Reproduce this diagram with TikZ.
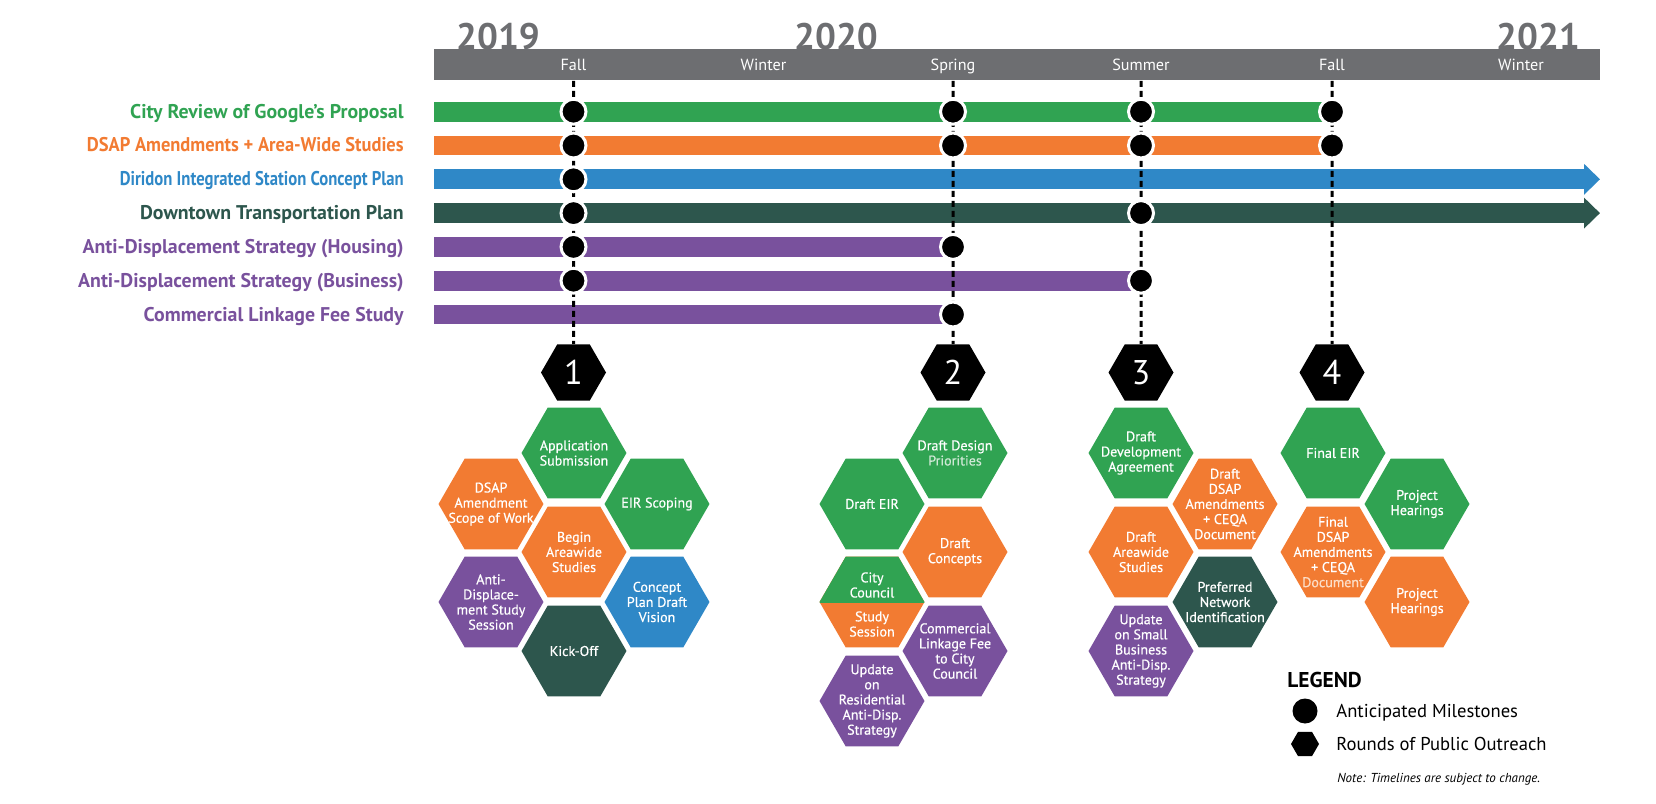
\documentclass[tikz,border=0pt]{standalone}
\usepackage{fontspec}
\setmainfont{PT Sans}
\newfontfamily\cellfont[FakeBold=0.5]{PT Sans}
\usetikzlibrary{arrows.meta, shapes.geometric}

\definecolor{cgreen}{RGB}{48,163,82}
\definecolor{corange}{RGB}{242,123,50}
\definecolor{cblue}{RGB}{47,136,199}
\definecolor{cdark}{RGB}{45,86,77}
\definecolor{cpurple}{RGB}{121,81,157}
\definecolor{cgray}{RGB}{109,110,113}
\definecolor{lgreen}{RGB}{205,232,212}
\definecolor{lorange}{RGB}{252,222,200}

\begin{document}
\begin{tikzpicture}[x=0.02cm, y=-0.02cm,
  year/.style={font=\fontsize{21}{21}\selectfont\bfseries, text=cgray, inner sep=0pt, anchor=base},
  season/.style={font=\fontsize{9.2}{9.2}\selectfont, text=white, inner sep=0pt, anchor=base},
  rowlbl/.style={font=\fontsize{11.3}{11.3}\selectfont\bfseries, inner sep=0pt, anchor=base east},
  bar/.style={line width=0.4cm},
  arrowbar/.style={line width=0.4cm, -{Triangle[length=0.32cm, width=0.6cm]}},
  guide/.style={line width=0.06cm, dash pattern=on 0.12cm off 0.08cm},
  ms/.style={circle, fill=black, draw=white, line width=0.06cm, minimum size=0.5cm, inner sep=0pt},
  numhex/.style={regular polygon, regular polygon sides=6, fill=black, minimum size=1.3cm, inner sep=0pt, text=white, font=\fontsize{19.5}{19.5}\selectfont},
  cell/.style={regular polygon, regular polygon sides=6, fill=#1, minimum size=2.1cm, inner sep=0pt, outer sep=0pt},
  celltxt/.style={text=white, align=center, inner sep=0pt, font=\cellfont\fontsize{8}{8.6}\selectfont},
  legtxt/.style={font=\fontsize{10.6}{10.6}\selectfont, inner sep=0pt, anchor=base west},
]
\useasboundingbox (0,0) rectangle (1656,804);

% time axis
\node[year] (y19) at (498,49.5) {2019};
\node[year] (y20) at (836,49.5) {2020};
\node[year] (y21) at (1538,49.5) {2021};
\fill[cgray] (434,49) rectangle (1600,80);
\node[season] (s1) at (573.5,70.5) {Fall};
\node[season] (s2) at (763.5,70.5) {Winter};
\node[season] (s3) at (953,70.5) {Spring};
\node[season] (s4) at (1141,70.5) {Summer};
\node[season] (s5) at (1332,70.5) {Fall};
\node[season] (s6) at (1521,70.5) {Winter};

\coordinate (c1) at (573.5,81);
\coordinate (c2) at (953,81);
\coordinate (c3) at (1141,81);
\coordinate (c4) at (1332,81);

% rows
\foreach \i/\y in {1/111.7, 2/145.5, 3/179.3, 4/213.1, 5/246.9, 6/280.7, 7/314.5}
  \coordinate (b\i) at (434,\y);
\coordinate (e3) at (1600,179.3);
\coordinate (e4) at (1600,213.1);

\foreach \i/\col/\sx/\txt in {1/cgreen/1/City Review of Google’s Proposal,
    2/corange/0.93/DSAP Amendments + Area-Wide Studies,
    3/cblue/0.84/Diridon Integrated Station Concept Plan,
    4/cdark/1/Downtown Transportation Plan,
    5/cpurple/1/Anti-Displacement Strategy (Housing),
    6/cpurple/1/Anti-Displacement Strategy (Business),
    7/cpurple/1/Commercial Linkage Fee Study}
  \node[rowlbl, text=\col] (l\i) at ([shift={(-30,6.5)}]b\i) {\scalebox{\sx}[1]{\txt}};

\draw[bar, cgreen] (b1) -- (c4 |- b1);
\draw[bar, corange] (b2) -- (c4 |- b2);
\draw[arrowbar, cblue] (b3) -- (e3);
\draw[arrowbar, cdark] (b4) -- (e4);
\draw[bar, cpurple] (b5) -- (c2 |- b5);
\draw[bar, cpurple] (b6) -- (c3 |- b6);
\draw[bar, cpurple] (b7) -- (c2 |- b7);

% rounds of outreach
\node[numhex] (h1) at (573.5,372.5) {1};
\node[numhex] (h2) at (953,372.5) {2};
\node[numhex] (h3) at (1141,372.5) {3};
\node[numhex] (h4) at (1332,372.5) {4};

\foreach \c in {1,...,4}
  \draw[guide] (c\c) -- (h\c.north);

\foreach \r/\c in {1/1,1/2,1/3,1/4,2/1,2/2,2/3,2/4,3/1,4/1,4/3,5/1,5/2,6/1,6/3,7/2}
  \node[ms] (d\r-\c) at (c\c |- b\r) {};

% round 1
\node[cell=cgreen, label={[celltxt]center:{Application\\Submission}}] (p1a) at (574,453) {};
\node[cell=corange, label={[celltxt]center:{DSAP\\Amendment\\Scope of Work}}] (p1b) at (491,504) {};
\node[cell=cgreen, label={[celltxt]center:{EIR Scoping}}] (p1c) at (657,504) {};
\node[cell=corange, label={[celltxt]center:{Begin\\Areawide\\Studies}}] (p1d) at (574,552) {};
\node[cell=cpurple, label={[celltxt]center:{Anti-\\Displace-\\ment Study\\Session}}] (p1e) at (491,602) {};
\node[cell=cblue, label={[celltxt]center:{Concept\\Plan Draft\\Vision}}] (p1f) at (657,602) {};
\node[cell=cdark, label={[celltxt]center:{Kick-Off}}] (p1g) at (574,651) {};

% round 2
\node[cell=cgreen, label={[celltxt]center:{Draft Design\\\textcolor{lgreen}{Priorities}}}] (p2a) at (955,453) {};
\node[cell=cgreen, label={[celltxt]center:{Draft EIR}}] (p2b) at (872,504) {};
\node[cell=corange, label={[celltxt]center:{Draft\\Concepts}}] (p2c) at (955,552) {};
\node[cell=corange] (p2d) at (872,602) {};
\begin{scope}
  \clip (p2d.west) rectangle (p2d.east |- p2d.north);
  \node[cell=cgreen] (p2d-top) at (p2d) {};
\end{scope}
\node[celltxt] (p2d-t1) at (872,585) {City\\Council};
\node[celltxt] (p2d-t2) at (872,624) {Study\\Session};
\node[cell=cpurple, label={[celltxt]center:{Commercial\\Linkage Fee\\to City\\Council}}] (p2e) at (955,651) {};
\node[cell=cpurple, label={[celltxt]center:{Update\\on\\Residential\\Anti-Disp.\\Strategy}}] (p2f) at (872,701) {};

% round 3
\node[cell=cgreen, label={[celltxt]center:{Draft\\Development\\Agreement}}] (p3a) at (1141,453) {};
\node[cell=corange, label={[celltxt]center:{Draft\\DSAP\\Amendments\\+ CEQA\\Document}}] (p3b) at (1225,504) {};
\node[cell=corange, label={[celltxt]center:{Draft\\Areawide\\Studies}}] (p3c) at (1141,552) {};
\node[cell=cdark, label={[celltxt]center:{Preferred\\Network\\Identification}}] (p3d) at (1225,602) {};
\node[cell=cpurple, label={[celltxt]center:{Update\\on Small\\Business\\Anti-Disp.\\Strategy}}] (p3e) at (1141,651) {};

% round 4
\node[cell=cgreen, label={[celltxt]center:{Final EIR}}] (p4a) at (1333,453) {};
\node[cell=cgreen, label={[celltxt]center:{Project\\Hearings}}] (p4b) at (1417,504) {};
\node[cell=corange, label={[celltxt]center:{Final\\DSAP\\Amendments\\+ CEQA\\\textcolor{lorange}{Document}}}] (p4c) at (1333,552) {};
\node[cell=corange, label={[celltxt]center:{Project\\Hearings}}] (p4d) at (1417,602) {};

% legend
\node[font=\fontsize{12.2}{12.2}\selectfont\bfseries, inner sep=0pt, anchor=base west] (lg) at (1287,687) {LEGEND};
\node[circle, fill=black, minimum size=0.5cm, inner sep=0pt] (lgm) at (1305,711) {};
\node[legtxt] (lgm-t) at (1336,717) {Anticipated Milestones};
\node[regular polygon, regular polygon sides=6, fill=black, minimum size=0.56cm, inner sep=0pt] (lgh) at (1305,744) {};
\node[legtxt] (lgh-t) at (1336,750) {Rounds of Public Outreach};
\node[font=\fontsize{7.4}{7.4}\selectfont\itshape, inner sep=0pt, anchor=base west] (note) at (1337,782) {Note: Timelines are subject to change.};
\end{tikzpicture}
\end{document}
